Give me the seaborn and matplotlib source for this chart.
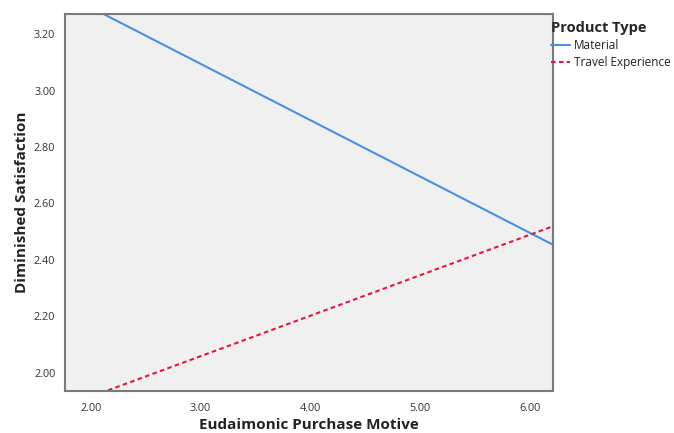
import matplotlib
matplotlib.use("Agg")
import matplotlib.pyplot as plt
import seaborn as sns
import pandas as pd
from matplotlib.ticker import FormatStrFormatter

# Data (fitted lines, endpoints at the axis limits)
motive = [1.75, 6.25]
material = [3.344, 2.446]
travel = [1.880, 2.525]
groups = ["Material", "Travel Experience"]
x_ticks = [2.0, 3.0, 4.0, 5.0, 6.0]
y_ticks = [2.0, 2.2, 2.4, 2.6, 2.8, 3.0, 3.2]

df = pd.DataFrame({
    "Eudaimonic Purchase Motive": motive * 2,
    "Diminished Satisfaction": material + travel,
    "Product Type": [groups[0]] * len(motive) + [groups[1]] * len(motive),
})

sns.set_style("white")
plt.rcParams["font.family"] = ["Open Sans", "DejaVu Sans"]

fig = plt.figure(figsize=(6.74, 4.33), dpi=100)
ax = fig.add_axes([0.0964, 0.097, 0.724, 0.8707])
ax.set_facecolor("#F0F0F0")

palette = {"Material": "#4A90E2", "Travel Experience": "#E3173E"}
dashes = {"Material": "", "Travel Experience": (2.2, 1.6)}
sns.lineplot(data=df, x="Eudaimonic Purchase Motive", y="Diminished Satisfaction",
             hue="Product Type", style="Product Type", palette=palette,
             dashes=dashes, linewidth=1.5, ax=ax, legend=True)

ax.set_xlim(1.765, 6.21)
ax.set_ylim(1.936, 3.271)
ax.set_xticks(x_ticks)
ax.set_yticks(y_ticks)
ax.xaxis.set_major_formatter(FormatStrFormatter("%.2f"))
ax.yaxis.set_major_formatter(FormatStrFormatter("%.2f"))
ax.tick_params(axis="both", length=0, labelsize=7.8, colors="#333333")
ax.tick_params(axis="x", pad=9)
ax.tick_params(axis="y", pad=7)

for s in ax.spines.values():
    s.set_color("#7a7a7a")
    s.set_linewidth(1.5)

ax.set_xlabel("Eudaimonic Purchase Motive", fontsize=11, fontweight="bold",
              color="#222222", va="center")
ax.set_ylabel("Diminished Satisfaction", fontsize=11, fontweight="bold",
              color="#222222", va="center")
ax.xaxis.set_label_coords(0.5, -0.09)
ax.yaxis.set_label_coords(-0.088, 0.5)

handles, labels = ax.get_legend_handles_labels()
ax.get_legend().remove()
leg = fig.legend(handles, labels, title="Product Type",
                 loc="upper left", bbox_to_anchor=(0.818, 0.952),
                 frameon=False, fontsize=8.5, handlelength=1.6,
                 handletextpad=0.3, labelspacing=0.35, borderaxespad=0,
                 borderpad=0)
leg.get_title().set_fontweight("bold")
leg.get_title().set_fontsize(10.5)
leg._legend_box.align = "left"
leg._legend_box.sep = 3
for t in leg.get_texts():
    t.set_color("#222222")

fig.savefig("out.png", dpi=100)
